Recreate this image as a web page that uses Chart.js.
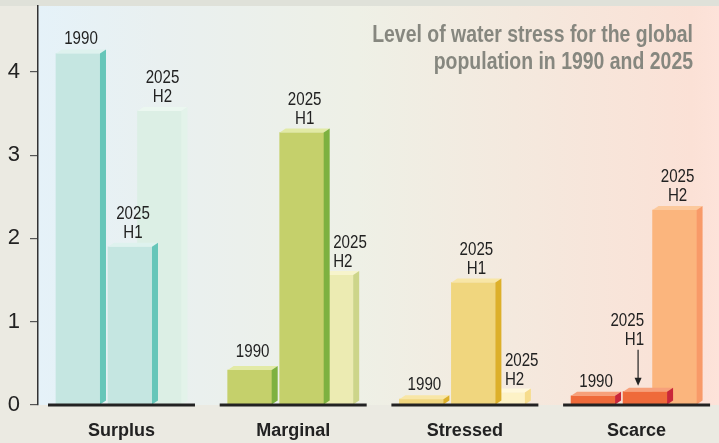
<!DOCTYPE html>
<html>
<head>
<meta charset="utf-8">
<script src="https://cdn.jsdelivr.net/npm/chart.js@4"></script>
<style>
  html, body { margin: 0; padding: 0; background: #ebeae2; }
  #wrap { width: 719px; height: 443px; }
</style>
</head>
<body>
<div id="wrap"><canvas id="c" width="719" height="443"></canvas></div>
<script>
// ---- data ----
const categories = ['Surplus', 'Marginal', 'Stressed', 'Scarce'];
const seriesNames = ['1990', '2025 H1', '2025 H2'];
const values1990   = [4.22, 0.42, 0.07, 0.11];
const values2025H1 = [1.90, 3.27, 1.47, 0.16];
const values2025H2 = [3.53, 1.56, 0.15, 2.34];
const yTickValues = [0, 1, 2, 3, 4];
const titleLines = ['Level of water stress for the global', 'population in 1990 and 2025'];

// ---- style ----
const seriesOffset = [-0.2534, 0.0495, 0.2213]; // position of each series inside a group
const faceColors = [
  ['#c5e6e1', '#c5d06b', '#f0d67e', '#ef6a3a'],
  ['#c5e6e1', '#c5d06b', '#f0d67e', '#ef6a3a'],
  ['#dcefe5', '#ecebb2', '#fdf2c6', '#fbb57d']
];
const sideColors = [
  ['#66c6b9', '#7db140', '#ddb02a', '#c9273a'],
  ['#66c6b9', '#7db140', '#ddb02a', '#c9273a'],
  ['#e3f3ea', '#cdd58a', '#f6dc8c', '#f89a68']
];
const topColors = [
  ['#def2ee', '#e2eaa5', '#f8e6a6', '#f7a07a'],
  ['#def2ee', '#e2eaa5', '#f8e6a6', '#f7a07a'],
  ['#ebf7f0', '#f7f4cc', '#fff8dc', '#fcc99c']
];
const labelPlacement = { '1-0': { gap: 13 }, '1-2': { align: 'left' }, '2-2': { align: 'left' }, '3-1': { arrow: true } };
const DX = 6, DY = 4;
const values = [values1990, values2025H1, values2025H2];

const datasets = values.map((vals, s) => ({
  label: seriesNames[s],
  data: vals.map((v, i) => ({ x: i + seriesOffset[s], y: v })),
  backgroundColor: faceColors[s],
  borderWidth: 0,
  barThickness: 44,
  grouped: false
}));

const bgPlugin = {
  id: 'bg',
  beforeDraw(chart) {
    const { ctx, chartArea: a, width, height } = chart;
    ctx.save();
    ctx.fillStyle = '#ebeae2';
    ctx.fillRect(0, 0, width, height);
    ctx.fillStyle = '#dfe1d9';
    ctx.fillRect(0, 0, width, a.top);
    const g = ctx.createLinearGradient(a.left, 0, a.right, 0);
    g.addColorStop(0, '#e5f2f9');
    g.addColorStop(0.18, '#e9f0f0');
    g.addColorStop(0.47, '#eef0e6');
    g.addColorStop(0.70, '#f4e9de');
    g.addColorStop(0.96, '#fbe1d6');
    g.addColorStop(1, '#fde3da');
    ctx.fillStyle = g;
    ctx.fillRect(a.left, a.top, a.right - a.left, a.bottom - a.top);
    ctx.restore();
  }
};

const bar3dPlugin = {
  id: 'bar3d',
  afterDatasetDraw(chart, args) {
    const ctx = chart.ctx;
    const s = args.index;
    ctx.save();
    args.meta.data.forEach((el, i) => {
      const p = el.getProps(['x', 'y', 'base', 'width'], true);
      const x0 = p.x - p.width / 2, x1 = p.x + p.width / 2;
      const yt = p.y, yb = p.base;
      ctx.fillStyle = topColors[s][i];
      ctx.beginPath();
      ctx.moveTo(x0, yt); ctx.lineTo(x1, yt); ctx.lineTo(x1 + DX, yt - DY); ctx.lineTo(x0 + DX, yt - DY);
      ctx.closePath(); ctx.fill();
      ctx.fillStyle = sideColors[s][i];
      ctx.beginPath();
      ctx.moveTo(x1, yt); ctx.lineTo(x1 + DX, yt - DY); ctx.lineTo(x1 + DX, yb - DY); ctx.lineTo(x1, yb);
      ctx.closePath(); ctx.fill();
    });
    ctx.restore();
  }
};

function condensedText(ctx, text, x, y, sx) {
  ctx.save();
  ctx.translate(x, y);
  ctx.scale(sx, 1);
  ctx.fillText(text, 0, 0);
  ctx.restore();
}

const overlayPlugin = {
  id: 'overlay',
  afterDatasetsDraw(chart) {
    const { ctx } = chart;
    const xs = chart.scales.x, ys = chart.scales.y;
    ctx.save();
    // group baselines
    ctx.fillStyle = '#222';
    categories.forEach((c, i) => {
      const l = xs.getPixelForValue(i - 0.428), r = xs.getPixelForValue(i + 0.428);
      ctx.fillRect(l, ys.getPixelForValue(0) - 1.5, r - l, 3);
    });
    // bar labels
    ctx.font = '18px "Liberation Sans", Arial, sans-serif';
    ctx.fillStyle = '#222';
    ctx.strokeStyle = '#222';
    ctx.textBaseline = 'alphabetic';
    for (let s = 0; s < 3; s++) {
      const meta = chart.getDatasetMeta(s);
      meta.data.forEach((el, i) => {
        const p = el.getProps(['x', 'y', 'width'], true);
        const lines = seriesNames[s].split(' ');
        const opt = labelPlacement[i + '-' + s] || {};
        const lh = 19;
        let x, align, baseY;
        if (opt.arrow) {
          const ax = p.x - 7;
          const tip = p.y - 6, start = p.y - 42;
          ctx.lineWidth = 1.2;
          ctx.beginPath(); ctx.moveTo(ax, start); ctx.lineTo(ax, tip - 6); ctx.stroke();
          ctx.beginPath(); ctx.moveTo(ax - 3.5, tip - 8); ctx.lineTo(ax + 3.5, tip - 8); ctx.lineTo(ax, tip); ctx.closePath(); ctx.fill();
          x = p.x - 1; align = 'right'; baseY = p.y - 47;
        } else if (opt.align === 'left') {
          x = p.x - p.width / 2 + 24; align = 'left'; baseY = p.y - 8;
        } else {
          x = p.x + DX / 2; align = 'center'; baseY = p.y - (opt.gap || 9);
        }
        ctx.textAlign = align;
        lines.forEach((t, k) => {
          condensedText(ctx, t, x, baseY - (lines.length - 1 - k) * lh, 0.84);
        });
      });
    }
    // title
    ctx.font = 'bold 24px "Liberation Sans", Arial, sans-serif';
    ctx.fillStyle = '#86877f';
    ctx.textAlign = 'right';
    condensedText(ctx, titleLines[0], 693, 42, 0.81);
    condensedText(ctx, titleLines[1], 693, 69, 0.81);
    ctx.restore();
  }
};

function noPad(sc) {
  sc.paddingTop = 0; sc.paddingBottom = 0; sc.paddingLeft = 0; sc.paddingRight = 0;
}

new Chart(document.getElementById('c'), {
  type: 'bar',
  data: { datasets },
  options: {
    responsive: false,
    animation: false,
    devicePixelRatio: 1,
    layout: { autoPadding: false, padding: { top: 6, right: 0, bottom: 0, left: 0 } },
    plugins: { legend: { display: false }, tooltip: { enabled: false }, title: { display: false } },
    scales: {
      x: {
        type: 'linear',
        min: -0.4863,
        max: 3.480,
        offset: false,
        grid: { display: false, drawTicks: false },
        border: { display: false },
        afterBuildTicks: (sc) => { sc.ticks = categories.map((c, i) => ({ value: i })); },
        afterFit: (sc) => { sc.height = 38; noPad(sc); },
        ticks: {
          autoSkip: false,
          maxRotation: 0,
          padding: 15,
          color: '#222',
          font: { family: '"Liberation Sans", Arial, sans-serif', size: 18, weight: 'bold' },
          callback: (v) => categories[v]
        }
      },
      y: {
        min: 0,
        max: 4.79,
        grid: { drawOnChartArea: false, drawTicks: true, tickLength: 8, color: '#555', lineWidth: 1.2 },
        border: { display: true, color: '#333', width: 1.5 },
        afterBuildTicks: (sc) => { sc.ticks = yTickValues.map(v => ({ value: v })); },
        afterFit: (sc) => { sc.width = 38; noPad(sc); },
        ticks: {
          padding: 10,
          color: '#222',
          font: { family: '"Liberation Sans", Arial, sans-serif', size: 22 }
        }
      }
    }
  },
  plugins: [bgPlugin, bar3dPlugin, overlayPlugin]
});
</script>
</body>
</html>
